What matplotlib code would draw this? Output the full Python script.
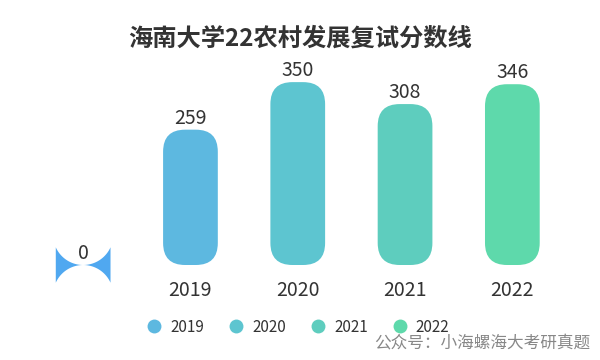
import numpy as np
import matplotlib
matplotlib.use("Agg")
import matplotlib.pyplot as plt
from matplotlib.patches import FancyBboxPatch, PathPatch
from matplotlib.path import Path
from matplotlib.lines import Line2D

plt.rcParams['font.family'] = ['Noto Sans CJK SC', 'DejaVu Sans']

title = "海南大学22农村发展复试分数线"
categories = ["", "2019", "2020", "2021", "2022"]
values = [0, 259, 350, 308, 346]
colors = ["#50A8F0", "#5DB8E0", "#5DC5D0", "#5ECDBE", "#5ED9AB"]
legend_labels = ["2019", "2020", "2021", "2022"]
legend_colors = ["#5DB8E0", "#5DC5D0", "#5ECDBE", "#5ED9AB"]
footer = "公众号：小海螺海大考研真题"

W, H = 600, 360
fig = plt.figure(figsize=(W / 100, H / 100), dpi=100)
ax = fig.add_axes([29.5 / W, 95 / H, 536.5 / W, 209 / H])
ax.set_xlim(-0.5, len(categories) - 0.5)
ax.set_ylim(0, 400)
ax.axis('off')

x = np.arange(len(categories))
bar_w = 0.51
bars = ax.bar(x, values, width=bar_w, color=colors)

# pixel scales
p0 = ax.transData.transform((0, 0))
p1 = ax.transData.transform((1, 1))
sx = p1[0] - p0[0]
sy = p1[1] - p0[1]
radius_px = 22

for b, c, v in zip(bars, colors, values):
    bx, by = b.get_x(), b.get_y()
    bw, bh = b.get_width(), b.get_height()
    b.remove()
    if bh > 0:
        r = radius_px / sx
        patch = FancyBboxPatch((bx, by), bw, bh,
                               boxstyle=f"round,pad=0,rounding_size={r}",
                               mutation_aspect=sx / sy,
                               facecolor=c, edgecolor='none')
        ax.add_patch(patch)
    else:
        # degenerate zero-height rounded bar: two concave wedges
        cx = bx + bw / 2
        half_px = bw * sx / 2
        R = 30.0
        for side in (-1, 1):
            t = np.linspace(0, 1, 40)
            xs_px = side * half_px * (1 - t)  # from edge to center
            low = -(R - np.sqrt(R ** 2 - xs_px ** 2))
            up = (R - np.sqrt(R ** 2 - xs_px ** 2))
            pts = list(zip(xs_px, low)) + list(zip(xs_px[::-1], up[::-1]))
            pts = np.array(pts)
            data_pts = np.column_stack([cx + pts[:, 0] / sx, by + pts[:, 1] / sy])
            ax.add_patch(PathPatch(Path(np.vstack([data_pts, data_pts[:1]]), closed=True),
                                   facecolor=c, edgecolor='none', clip_on=False))

for xi, v in zip(x, values):
    ax.annotate(str(v), (xi, v), xytext=(0, 6 * 0.72), textcoords='offset points',
                ha='center', va='baseline', fontsize=14, color='#333333',
                annotation_clip=False)

for xi, lab in zip(x, categories):
    if lab:
        ax.annotate(lab, (xi, 0), xytext=(0, -31 * 0.72), textcoords='offset points',
                    ha='center', va='baseline', fontsize=14, color='#333333',
                    annotation_clip=False)

fig.text(0.5, 1 - 39 / H, title, ha='center', va='center', fontsize=17.5,
         fontweight='bold', color='#333333')

handles = [Line2D([], [], linestyle='none', marker='o', markersize=10,
                  markerfacecolor=c, markeredgecolor='none') for c in legend_colors]
fig.legend(handles, legend_labels, loc='center', bbox_to_anchor=(298 / W, 1 - 327 / H),
           ncol=4, frameon=False, fontsize=11, handlelength=1.0,
           handletextpad=0.55, columnspacing=1.6, labelcolor='#333333')

fig.text(590 / W, 1 - 344 / H, footer, ha='right', va='center', fontsize=12,
         color='#888888')

fig.savefig("out.png", dpi=100)
